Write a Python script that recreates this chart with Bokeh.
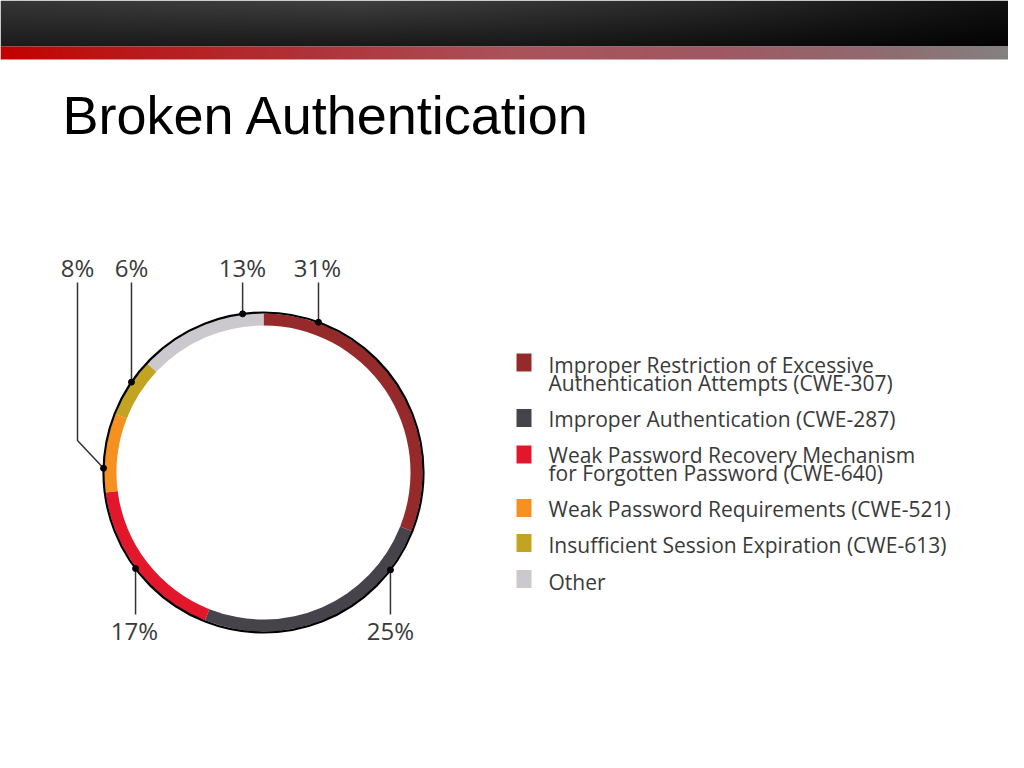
import numpy as np
from bokeh.plotting import figure
from bokeh.models import Range1d, ColumnDataSource
from bokeh.core.properties import value
from bokeh.embed import file_html
from bokeh.resources import INLINE

# chart data, clockwise from 12 o'clock
categories = [
    "Improper Restriction of Excessive Authentication Attempts (CWE-307)",
    "Improper Authentication (CWE-287)",
    "Weak Password Recovery Mechanism for Forgotten Password (CWE-640)",
    "Weak Password Requirements (CWE-521)",
    "Insufficient Session Expiration (CWE-613)",
    "Other",
]
shares = [31, 25, 17, 8, 6, 13]
colors = ["#962a2b", "#47434b", "#e2172b", "#f6901e", "#c2a322", "#cbc8ce"]
legend_lines = [
    ["Improper Restriction of Excessive", "Authentication Attempts (CWE-307)"],
    ["Improper Authentication (CWE-287)"],
    ["Weak Password Recovery Mechanism", "for Forgotten Password (CWE-640)"],
    ["Weak Password Requirements (CWE-521)"],
    ["Insufficient Session Expiration (CWE-613)"],
    ["Other"],
]
pct_labels = [f"{v}%" for v in shares]

# layout (slide pixels, y measured downward)
H = 768
def Y(ry):
    return H - ry

cx, cy, R = 263, Y(472), 160
ring_in, ring_out = 147, 159
# where each label's leader touches the ring (degrees) and label position
dot_deg = [69.9, -37.5, -143.1, 178.5, 145.6, 97.5]
label_x = [317, 390, 134, 77, 131, 242]
label_top = [True, False, False, True, True, True]
TXT = "#3a3a3a"
FONT = value("Open Sans")

p = figure(width=1008, height=752, x_range=Range1d(0, 1008), y_range=Range1d(16, 768),
           output_backend="svg", toolbar_location=None, min_border=0,
           x_axis_location=None, y_axis_location=None)
p.grid.visible = False
p.outline_line_color = None
p.background_fill_color = "white"

# slide header: dark bar + red-to-grey stripe
W = 1024
def rgba(r, g, b):
    img = np.empty(r.shape, dtype=np.uint32)
    v = img.view(dtype=np.uint8).reshape(r.shape + (4,))
    v[..., 0] = r
    v[..., 1] = g
    v[..., 2] = b
    v[..., 3] = 255
    return img

xs = np.linspace(0, 1, W)
hh = 46
top = np.interp(xs, [0, 0.35, 0.7, 1], [0x36, 0x40, 0x2a, 0x10])
bot = np.interp(xs, [0, 0.5, 1], [0x1c, 0x18, 0x02])
ty = np.linspace(0, 1, hh)[:, None]
g = (bot[None, :] * (1 - ty) + top[None, :] * ty).astype(np.uint8)
p.image_rgba(image=[rgba(g, g, g)], x=0, y=Y(hh), dw=W, dh=hh)

sh = 13
stops = [0, 0.08, 0.3, 0.5, 0.7, 0.88, 1]
sr = np.interp(xs, stops, [0xc4, 0xbd, 0xb0, 0xab, 0xa0, 0x8e, 0x84])
sg = np.interp(xs, stops, [0x00, 0x12, 0x32, 0x52, 0x58, 0x6e, 0x84])
sb = np.interp(xs, stops, [0x00, 0x12, 0x38, 0x5a, 0x62, 0x72, 0x84])
ones = np.ones((sh, 1))
p.image_rgba(image=[rgba((ones * sr).astype(np.uint8), (ones * sg).astype(np.uint8),
                         (ones * sb).astype(np.uint8))],
             x=0, y=Y(hh + sh), dw=W, dh=sh)

p.text(x=[62], y=[Y(114)], text=["Broken Authentication"],
       text_font=value("Liberation Sans"), text_font_size="54px",
       text_color="black", text_baseline="middle")

# ring
frac = np.array(shares) / sum(shares)
cum = np.concatenate([[0], np.cumsum(frac)])
src = ColumnDataSource(dict(start=np.pi / 2 - cum[:-1] * 2 * np.pi,
                            end=np.pi / 2 - cum[1:] * 2 * np.pi,
                            color=colors, name=categories))
p.annular_wedge(x=cx, y=cy, inner_radius=ring_in, outer_radius=ring_out,
                start_angle="start", end_angle="end", direction="clock",
                fill_color="color", line_color=None, source=src)
p.circle(x=[cx], y=[cy], radius=R, fill_color=None, line_color="black", line_width=2.2)

# leaders and percentage labels
dx = [cx + R * np.cos(np.radians(a)) for a in dot_deg]
dy = [cy + R * np.sin(np.radians(a)) for a in dot_deg]
lx, ly = [], []
for i in range(len(shares)):
    if label_top[i]:
        if abs(dx[i] - label_x[i]) > 2:
            lx.append([dx[i], label_x[i], label_x[i]])
            ly.append([dy[i], Y(440), Y(282)])
        else:
            lx.append([dx[i], dx[i]])
            ly.append([dy[i], Y(282)])
    else:
        lx.append([dx[i], dx[i]])
        ly.append([dy[i], Y(614)])
p.multi_line(xs=lx, ys=ly, line_color="#333333", line_width=1.5)
p.scatter(x=dx, y=dy, size=6, color="black")
p.text(x=label_x, y=[Y(266.5) if t else Y(629.5) for t in label_top], text=pct_labels,
       text_font=FONT, text_font_size="24px", text_color=TXT,
       text_align="center", text_baseline="middle")

# legend
sq_y = [362, 417.5, 454, 507.5, 542.5, 578.5]
line_y = [[366.5, 384.5], [420.5], [456.5, 474.5], [510], [546.5], [583.5]]
p.rect(x=[523.5] * len(colors), y=[Y(v) for v in sq_y], width=15, height=18,
       fill_color=colors, line_color=None)
tx, ty_, tt = [], [], []
for lines, ys in zip(legend_lines, line_y):
    for s, yy in zip(lines, ys):
        tx.append(548)
        ty_.append(Y(yy - 2))
        tt.append(s)
p.text(x=tx, y=ty_, text=tt, text_font=FONT, text_font_size="21px",
       text_color=TXT, text_baseline="middle")

open("out.html", "w").write(file_html(p, INLINE))
